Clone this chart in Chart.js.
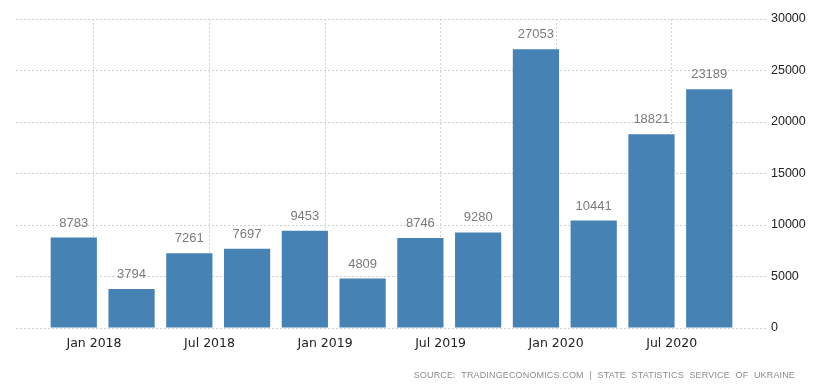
<!DOCTYPE html>
<html>
<head>
<meta charset="utf-8">
<script src="https://cdn.jsdelivr.net/npm/chart.js@4/dist/chart.umd.min.js"></script>
<style>
  html, body { margin: 0; padding: 0; background: #ffffff; }
  #wrap { position: relative; width: 821px; height: 389px; }
  #source {
    position: absolute; right: 26px; top: 370px;
    font-family: "Liberation Sans", Arial, sans-serif; font-size: 9px;
    letter-spacing: 0.15px; word-spacing: 3px; color: #8c8c8c; white-space: nowrap;
  }
</style>
</head>
<body>
<div id="wrap">
  <canvas id="c" width="821" height="389"></canvas>
  <div id="source">SOURCE: TRADINGECONOMICS.COM | STATE STATISTICS SERVICE OF UKRAINE</div>
</div>
<script>
// Quarterly values
const categories = ['Jan 2018','Apr 2018','Jul 2018','Oct 2018','Jan 2019','Apr 2019','Jul 2019','Oct 2019','Jan 2020','Apr 2020','Jul 2020','Oct 2020'];
const values = [8783, 3794, 7261, 7697, 9453, 4809, 8746, 9280, 27053, 10441, 18821, 23189];
const xTickLabels = ['Jan 2018','Jul 2018','Jan 2019','Jul 2019','Jan 2020','Jul 2020'];
const yTicks = [0, 5000, 10000, 15000, 20000, 25000, 30000];

const TICK_SHIFT = 0.35; // label offset inside a category slot

const valueLabels = {
  id: 'valueLabels',
  afterDatasetsDraw(chart) {
    const ctx = chart.ctx;
    const meta = chart.getDatasetMeta(0);
    ctx.save();
    ctx.font = '13px "Liberation Sans", Arial, sans-serif';
    ctx.fillStyle = '#7b7b7b';
    ctx.textAlign = 'center';
    ctx.textBaseline = 'bottom';
    meta.data.forEach((bar, i) => {
      ctx.fillText(String(values[i]), bar.x, bar.y - 8);
    });
    ctx.restore();
  }
};

const gridStyle = { color: '#d2d2d2', lineWidth: 1, drawTicks: false };

new Chart(document.getElementById('c'), {
  type: 'bar',
  data: {
    datasets: [{
      data: values.map((v, i) => ({ x: i, y: v })),
      backgroundColor: '#4682b4',
      borderWidth: 0,
      categoryPercentage: 1.0,
      barPercentage: 0.8
    }]
  },
  options: {
    responsive: false,
    animation: false,
    events: [],
    layout: { padding: { left: 16, top: 19, right: 0, bottom: 0 } },
    plugins: { legend: { display: false }, tooltip: { enabled: false } },
    scales: {
      x: {
        type: 'linear',
        offset: false,
        min: -1,
        max: categories.length,
        grid: Object.assign({ offset: false }, gridStyle),
        border: { display: false, dash: [2, 2] },
        afterBuildTicks(scale) {
          scale.ticks = xTickLabels.map(l => ({ value: categories.indexOf(l) + TICK_SHIFT }));
        },
        afterFit(scale) { scale.height = 61; },
        ticks: {
          padding: 8,
          maxRotation: 0,
          autoSkip: false,
          color: '#222222',
          font: { family: '"DejaVu Sans", sans-serif', size: 12.5 },
          callback: (v, idx) => xTickLabels[idx]
        }
      },
      y: {
        position: 'right',
        min: 0,
        max: 30000,
        grid: gridStyle,
        border: { display: false, dash: [2, 2] },
        afterBuildTicks(scale) {
          scale.ticks = yTicks.map(v => ({ value: v }));
        },
        afterFit(scale) { scale.width = 54; },
        ticks: {
          padding: 4,
          color: '#222222',
          font: { family: '"Liberation Sans", Arial, sans-serif', size: 12.5 },
          callback: v => String(v)
        }
      }
    }
  },
  plugins: [valueLabels]
});
</script>
</body>
</html>
